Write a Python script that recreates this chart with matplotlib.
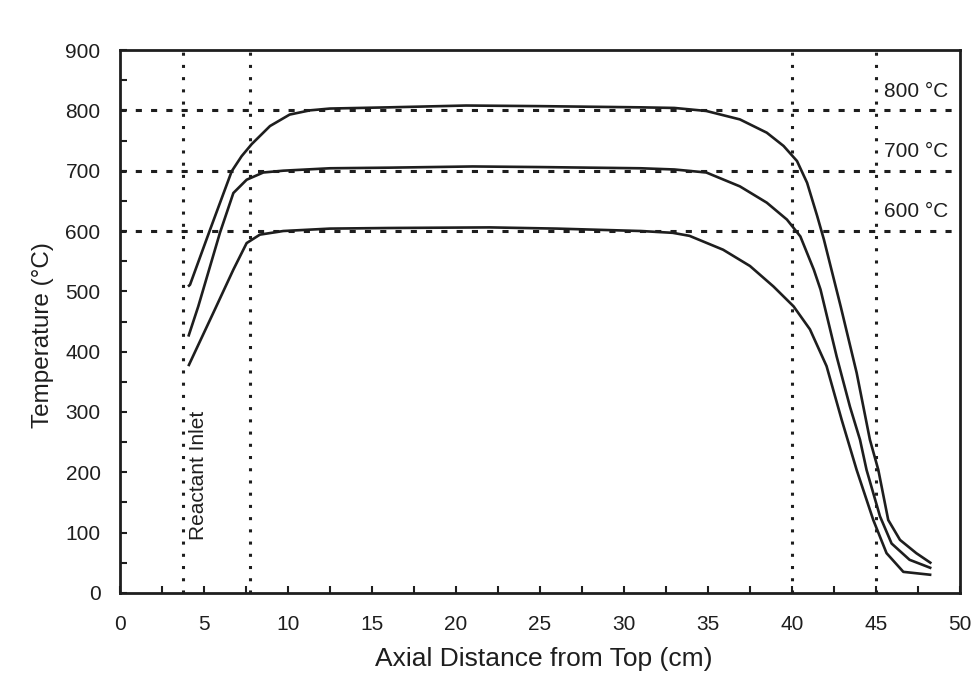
import matplotlib
matplotlib.use('Agg')
import matplotlib.pyplot as plt
import matplotlib.ticker as ticker

plt.rcParams['font.family'] = ['Liberation Sans', 'DejaVu Sans']

# Axial temperature profiles (x in cm, T in degC)
x_800 = [4.05, 4.17, 5.36, 6.65, 7.24, 7.84, 8.93, 10.1, 11.3, 12.5, 16.0, 20.6, 25.0, 28.0, 31.0,
         33.0, 34.9, 36.9, 38.5, 39.5, 40.3, 40.9, 41.5, 41.9, 42.9, 43.85, 44.64, 45.14, 45.73,
         46.43, 47.4, 48.3]
t_800 = [508, 511, 602, 699, 724, 744, 774, 793, 800, 803, 805, 808, 807, 806, 805,
         804, 799, 785, 763, 741, 716, 680, 625, 586, 475, 365, 254, 204, 121,
         88, 66, 49]

x_700 = [4.07, 4.66, 5.95, 6.75, 7.54, 8.53, 9.72, 12.5, 16.0, 21.0, 25.0, 28.0, 31.0,
         33.0, 34.9, 36.9, 38.5, 39.7, 40.5, 41.3, 41.7, 42.66, 43.45, 44.05, 44.44, 45.24,
         45.93, 47.0, 48.3]
t_700 = [425, 475, 597, 663, 685, 697, 700, 704, 705, 707, 706, 705, 704,
         702, 697, 674, 647, 619, 591, 536, 503, 392, 309, 254, 204, 127,
         82, 55, 41]

x_600 = [4.07, 5.65, 6.75, 7.54, 8.33, 9.72, 12.5, 16.0, 22.0, 26.0, 31.0,
         32.9, 33.9, 35.9, 37.5, 38.9, 40.1, 41.07, 42.06, 42.96, 43.85, 44.84, 45.63,
         46.63, 48.3]
t_600 = [376, 470, 536, 580, 594, 600, 604, 605, 606, 604, 600,
         597, 592, 569, 542, 508, 475, 437, 376, 287, 204, 121, 66,
         35, 30]

guide_x = [3.77, 7.74, 40.0, 45.0]
guide_t = [600, 700, 800]
set_labels = ['800 °C', '700 °C', '600 °C']
label_t = [831, 732, 632]

ink = '#1e1e1e'

fig = plt.figure(figsize=(9.73, 6.92), dpi=100)
ax = fig.add_axes([0.1233, 0.1431, 0.8633, 0.7846])

for gx in guide_x:
    ax.axvline(gx, color=ink, lw=2.2, linestyle=(0, (1, 3)), zorder=1)
for gt in guide_t:
    ax.axhline(gt, color=ink, lw=2.2, linestyle=(0, (2, 3)), zorder=1)

for xs, ts in [(x_800, t_800), (x_700, t_700), (x_600, t_600)]:
    ax.plot(xs, ts, color=ink, lw=1.9, zorder=3, solid_capstyle='butt',
            solid_joinstyle='round')

for lab, lt in zip(set_labels, label_t):
    ax.text(45.5, lt, lab, fontsize=15, color=ink, va='center', ha='left')

ax.text(4.7, 88, 'Reactant Inlet', rotation=90, fontsize=15, color=ink,
        ha='center', va='bottom')

ax.set_xlim(0, 50)
ax.set_ylim(0, 900)
ax.xaxis.set_major_locator(ticker.MultipleLocator(5))
ax.xaxis.set_minor_locator(ticker.MultipleLocator(2.5))
ax.yaxis.set_major_locator(ticker.MultipleLocator(100))
ax.yaxis.set_minor_locator(ticker.MultipleLocator(50))
ax.tick_params(axis='both', which='both', direction='in', length=5, width=1.5,
               colors=ink, labelsize=15)
ax.tick_params(axis='x', pad=16)
ax.tick_params(axis='y', pad=14)
ax.tick_params(top=False, right=False)

for sp in ax.spines.values():
    sp.set_linewidth(2)
    sp.set_color(ink)

ax.set_xlabel('Axial Distance from Top (cm)', fontsize=19, color=ink)
ax.set_ylabel('Temperature (°C)', fontsize=17.5, color=ink)
ax.xaxis.set_label_coords(0.504, -0.100)
ax.yaxis.set_label_coords(-0.078, 0.475)

fig.savefig('out.png', dpi=100, facecolor='white')
